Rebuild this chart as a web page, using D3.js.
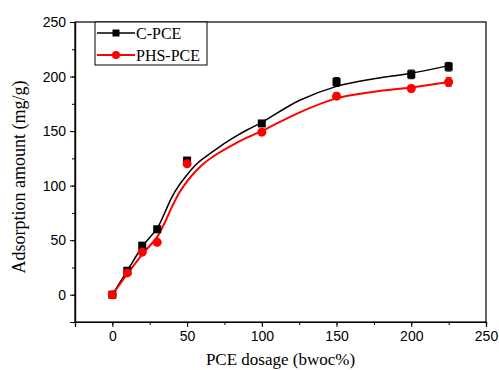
<!DOCTYPE html>
<html>
<head>
<meta charset="utf-8">
<script src="https://cdn.jsdelivr.net/npm/d3@7"></script>
<style>
  body { margin: 0; background: #fff; }
  svg { display: block; }
</style>
</head>
<body>
<div id="chart"></div>
<script>
// measured data points
let dosage = [0, 10, 20, 30, 50, 100, 150, 200, 225];
let cPce = [0, 22, 45, 60, 123, 157, 195, 202, 209];
let cErr = [1, 1, 1, 1, 2, 2, 4, 4, 4];
let phsPce = [0, 20, 39, 48, 120, 149, 182, 189, 195];
let phsErr = [1, 1, 1, 1, 2, 2, 3, 3, 4];

// fitted curves
let fitX = [0, 10, 20, 30, 35, 40, 45, 50, 55, 60, 70, 80, 90, 100, 125, 150, 175, 200, 225];
let cFit = [0, 22, 44, 61, 75, 90, 101, 110, 118, 124, 134, 143, 151, 158, 178, 191, 198, 203, 210];
let phsFit = [0, 19, 37, 53, 66, 81, 94, 104, 112, 119, 129, 137, 144, 150, 167, 180, 186, 190, 195];

let xTicks = [0, 50, 100, 150, 200, 250];
let yTicks = [0, 50, 100, 150, 200, 250];

let svgWidth = 499;
let svgHeight = 370;
let margin = { top: 22, right: 13, bottom: 48, left: 75 };
let width = svgWidth - margin.left - margin.right;
let height = svgHeight - margin.top - margin.bottom;

let svg = d3.select('#chart').append('svg')
  .attr('width', svgWidth)
  .attr('height', svgHeight);

let g = svg.append('g')
  .attr('transform', `translate(${margin.left}, ${margin.top})`);

let x = d3.scaleLinear().domain([-25, 250]).range([0, width]);
let y = d3.scaleLinear().domain([-25, 250]).range([height, 0]);

// frame
g.append('rect')
  .attr('width', width)
  .attr('height', height)
  .attr('fill', 'none')
  .attr('stroke', '#000')
  .attr('stroke-width', 1.2);

// minor ticks
let xAxisMinor = d3.axisBottom(x).tickValues(d3.range(-25, 251, 25)).tickSize(3).tickFormat('');
let yAxisMinor = d3.axisLeft(y).tickValues(d3.range(-25, 251, 25)).tickSize(3).tickFormat('');
g.append('g').attr('transform', `translate(0, ${height})`).call(xAxisMinor);
g.append('g').call(yAxisMinor);

// major ticks
let xAxis = d3.axisBottom(x).tickValues(xTicks).tickSize(5).tickPadding(4);
let yAxis = d3.axisLeft(y).tickValues(yTicks).tickSize(5).tickPadding(4);
g.append('g').attr('class', 'x-axis').attr('transform', `translate(0, ${height})`).call(xAxis);
g.append('g').attr('class', 'y-axis').call(yAxis);

g.selectAll('.domain').attr('stroke', '#000').attr('stroke-width', 1.2);
g.selectAll('.tick line').attr('stroke', '#000');
g.selectAll('.tick text')
  .attr('font-family', 'Liberation Sans, Arial, sans-serif')
  .attr('font-size', '14px')
  .attr('fill', '#000');

// axis titles
g.append('text')
  .attr('x', width / 2)
  .attr('y', height + 43)
  .attr('text-anchor', 'middle')
  .attr('font-family', 'Liberation Serif, Times New Roman, serif')
  .attr('font-size', '17px')
  .text('PCE dosage (bwoc%)');

g.append('text')
  .attr('transform', 'rotate(-90)')
  .attr('x', -155)
  .attr('y', -50)
  .attr('text-anchor', 'middle')
  .attr('font-family', 'Liberation Serif, Times New Roman, serif')
  .attr('font-size', '18px')
  .text('Adsorption amount (mg/g)');

let series = [
  { name: 'C-PCE', vals: cPce, err: cErr, fit: cFit, color: '#000', width: 1.5, shape: 'square' },
  { name: 'PHS-PCE', vals: phsPce, err: phsErr, fit: phsFit, color: '#ff0000', width: 2, shape: 'circle' }
];

let line = d3.line()
  .x(d => x(d[0]))
  .y(d => y(d[1]))
  .curve(d3.curveCatmullRom.alpha(0.5));

// fitted curves
series.forEach(function(s) {
  g.append('path')
    .datum(fitX.map((v, i) => [v, s.fit[i]]))
    .attr('d', line)
    .attr('fill', 'none')
    .attr('stroke', s.color)
    .attr('stroke-width', s.width);
});

// error bars and markers
series.forEach(function(s) {
  let pts = dosage.map((v, i) => ({ x: v, y: s.vals[i], e: s.err[i] }));
  let sg = g.append('g');
  sg.selectAll('.err')
    .data(pts)
    .enter()
    .append('path')
    .attr('d', d => `M${x(d.x) - 3},${y(d.y + d.e)}H${x(d.x) + 3}M${x(d.x)},${y(d.y + d.e)}V${y(d.y - d.e)}M${x(d.x) - 3},${y(d.y - d.e)}H${x(d.x) + 3}`)
    .attr('stroke', s.color)
    .attr('stroke-width', 1)
    .attr('fill', 'none');
  if (s.shape === 'square') {
    sg.selectAll('rect')
      .data(pts)
      .enter()
      .append('rect')
      .attr('x', d => x(d.x) - 4)
      .attr('y', d => y(d.y) - 4)
      .attr('width', 8)
      .attr('height', 8)
      .attr('fill', s.color);
  } else {
    sg.selectAll('circle')
      .data(pts)
      .enter()
      .append('circle')
      .attr('cx', d => x(d.x))
      .attr('cy', d => y(d.y))
      .attr('r', 4.5)
      .attr('fill', s.color);
  }
});

// legend
let legend = g.append('g').attr('transform', 'translate(20, 0)');
legend.append('rect')
  .attr('width', 112)
  .attr('height', 43)
  .attr('fill', '#fff')
  .attr('stroke', '#000')
  .attr('stroke-width', 1);

series.forEach(function(s, i) {
  let ly = 11 + i * 22;
  legend.append('line')
    .attr('x1', 2).attr('x2', 40)
    .attr('y1', ly).attr('y2', ly)
    .attr('stroke', s.color)
    .attr('stroke-width', s.width);
  if (s.shape === 'square') {
    legend.append('rect')
      .attr('x', 21 - 3.5).attr('y', ly - 3.5)
      .attr('width', 7).attr('height', 7)
      .attr('fill', s.color);
  } else {
    legend.append('circle')
      .attr('cx', 21).attr('cy', ly)
      .attr('r', 4)
      .attr('fill', s.color);
  }
  legend.append('text')
    .attr('x', 41)
    .attr('y', ly + 5.5)
    .attr('font-family', 'Liberation Serif, Times New Roman, serif')
    .attr('font-size', '16px')
    .text(s.name);
});
</script>
</body>
</html>
